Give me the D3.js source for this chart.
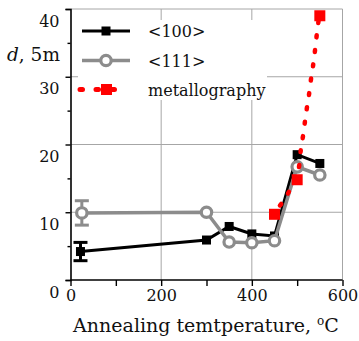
<!DOCTYPE html>
<html>
<head>
<meta charset="UTF-8" />
<script src="https://d3js.org/d3.v7.min.js"></script>
<style>
  body { margin: 0; background: white; }
  svg text { font-family: "DejaVu Serif", serif; fill: #111; }
</style>
</head>
<body>
<svg width="359" height="341"></svg>
<script>
// <100> series
const temp100 = [22, 300, 350, 400, 450, 500, 550];
const d100 = [4.2, 5.9, 7.9, 6.8, 6.5, 18.5, 17.2];
const err100 = [1.35, 0, 0, 0, 0, 0, 0];
// <111> series
const temp111 = [25, 300, 350, 400, 450, 500, 550];
const d111 = [9.9, 10.0, 5.6, 5.5, 5.8, 16.7, 15.5];
const err111 = [1.8, 0, 0, 0, 0, 0, 0];
// metallography points + dotted trend
const tempMet = [450, 500, 550];
const dMet = [9.7, 14.8, 39];
const trendT = [462, 468, 484, 496, 505, 508, 513, 517, 521, 526, 530, 535, 539, 542, 546, 550];
const trendD = [11.0, 11.5, 13.3, 15.0, 17.1, 19.2, 21.3, 23.3, 25.2, 27.3, 29.4, 31.6, 33.7, 35.5, 37.7, 39.5];

const xTicks = [0, 100, 200, 300, 400, 500, 600];
const yTicks = [0, 10, 20, 30, 40];
const yMinor = [5, 15, 25, 35];
const legendNames = ["<100>", "<111>", "metallography"];

const svg = d3.select("svg");
const x = d3.scaleLinear().domain([0, 600]).range([70.5, 342.5]);
const y = d3.scaleLinear().domain([0, 40]).range([280, 9]);

// grid
const grid = svg.append("g").attr("stroke", "#a6a6a6").attr("stroke-width", 1);
[200, 400, 600].forEach(v => grid.append("line")
  .attr("x1", x(v)).attr("x2", x(v)).attr("y1", y(0)).attr("y2", y(40)));
[10, 20, 30, 40].forEach(v => grid.append("line")
  .attr("x1", x(0)).attr("x2", x(600)).attr("y1", y(v)).attr("y2", y(v)));

// legend box (white, hides the grid)
svg.append("rect").attr("x", 78).attr("y", 20).attr("width", 189).attr("height", 80)
  .attr("fill", "white");

// axes
const xAxis = svg.append("g").attr("transform", `translate(0,${y(0)})`)
  .call(d3.axisBottom(x).tickValues(xTicks).tickSize(6).tickPadding(4)
    .tickFormat(d => d % 200 === 0 ? d : ""));
const yAxis = svg.append("g").attr("transform", `translate(${x(0)},0)`)
  .call(d3.axisLeft(y).tickValues(yTicks).tickSize(5).tickPadding(6));
svg.append("g").attr("transform", `translate(${x(0)},0)`)
  .call(d3.axisLeft(y).tickValues(yMinor).tickSize(3).tickFormat(""))
  .select(".domain").remove();
[xAxis, yAxis].forEach(g => {
  g.select(".domain").attr("stroke", "#000").attr("stroke-width", 1.6);
  g.selectAll("text").attr("font-size", 16).attr("font-family", "DejaVu Serif").attr("fill", "#111");
});
svg.selectAll(".tick line").attr("stroke", "#000").attr("stroke-width", 1.4);
yAxis.selectAll(".tick text").attr("transform", "translate(0,12)");
xAxis.selectAll(".domain").attr("d", `M${x(0)},0H${x(600)}`);

// axis titles
const yl = svg.append("text").attr("x", 7).attr("y", 61).attr("font-size", 18.5);
yl.append("tspan").attr("font-style", "italic").text("d");
yl.append("tspan").text(", 5m");
const xl = svg.append("text").attr("x", 206).attr("y", 332).attr("font-size", 19)
  .attr("text-anchor", "middle");
xl.append("tspan").text("Annealing temtperature, ");
xl.append("tspan").attr("font-size", 12).attr("dy", -7).text("o");
xl.append("tspan").attr("dy", 7).text("C");

const line = d3.line().x(d => x(d[0])).y(d => y(d[1]));

// error bars
function errBars(ts, ds, es, color) {
  ts.forEach((t, i) => {
    if (!es[i]) return;
    const g = svg.append("g").attr("stroke", color).attr("stroke-width", 3);
    g.append("line").attr("x1", x(t)).attr("x2", x(t)).attr("y1", y(ds[i] - es[i])).attr("y2", y(ds[i] + es[i]));
    [ds[i] - es[i], ds[i] + es[i]].forEach(v => g.append("line")
      .attr("x1", x(t) - 7).attr("x2", x(t) + 7).attr("y1", y(v)).attr("y2", y(v)));
  });
}
errBars(temp100, d100, err100, "#000");
errBars(temp111, d111, err111, "#8c8c8c");

// <100>
const p100 = temp100.map((t, i) => [t, d100[i]]);
svg.append("path").datum(p100).attr("d", line).attr("fill", "none")
  .attr("stroke", "#000").attr("stroke-width", 3);
svg.selectAll(".sq100").data(p100).enter().append("rect")
  .attr("x", d => x(d[0]) - 4.5).attr("y", d => y(d[1]) - 4.5)
  .attr("width", 9).attr("height", 9).attr("fill", "#000");

// <111>
const p111 = temp111.map((t, i) => [t, d111[i]]);
svg.append("path").datum(p111).attr("d", line).attr("fill", "none")
  .attr("stroke", "#8c8c8c").attr("stroke-width", 3.5);
svg.selectAll(".c111").data(p111).enter().append("circle")
  .attr("cx", d => x(d[0])).attr("cy", d => y(d[1])).attr("r", 5.2)
  .attr("fill", "white").attr("stroke", "#8c8c8c").attr("stroke-width", 3.2);

// metallography
const pMet = tempMet.map((t, i) => [t, dMet[i]]);
svg.selectAll(".met").data(pMet).enter().append("rect")
  .attr("x", d => x(d[0]) - 5.5).attr("y", d => y(d[1]) - 5.5)
  .attr("width", 11).attr("height", 11).attr("fill", "#ff0000");
const pTrend = trendT.map((t, i) => [t, trendD[i]]);
svg.append("path").datum(pTrend).attr("d", line.curve(d3.curveMonotoneX)).attr("fill", "none")
  .attr("stroke", "#ff0000").attr("stroke-width", 4.5).attr("stroke-linecap", "round")
  .attr("stroke-dasharray", "2 12.5");

// legend
const ly = [31, 60.5, 89.5];
const lg = svg.append("g");
lg.append("line").attr("x1", 82).attr("x2", 130).attr("y1", ly[0]).attr("y2", ly[0])
  .attr("stroke", "#000").attr("stroke-width", 3);
lg.append("rect").attr("x", 101.5).attr("y", ly[0] - 4.5).attr("width", 9).attr("height", 9).attr("fill", "#000");
lg.append("line").attr("x1", 82).attr("x2", 130).attr("y1", ly[1]).attr("y2", ly[1])
  .attr("stroke", "#8c8c8c").attr("stroke-width", 3.5);
lg.append("circle").attr("cx", 106).attr("cy", ly[1]).attr("r", 5.2)
  .attr("fill", "white").attr("stroke", "#8c8c8c").attr("stroke-width", 3.2);
lg.append("line").attr("x1", 80).attr("x2", 128).attr("y1", ly[2]).attr("y2", ly[2])
  .attr("stroke", "#ff0000").attr("stroke-width", 5).attr("stroke-linecap", "round")
  .attr("stroke-dasharray", "2.5 13.5");
lg.append("rect").attr("x", 101).attr("y", ly[2] - 5.5).attr("width", 11).attr("height", 11).attr("fill", "#ff0000");
legendNames.forEach((n, i) => lg.append("text").attr("x", 148).attr("y", ly[i] + 6)
  .attr("font-size", 16).text(n));
</script>
</body>
</html>
